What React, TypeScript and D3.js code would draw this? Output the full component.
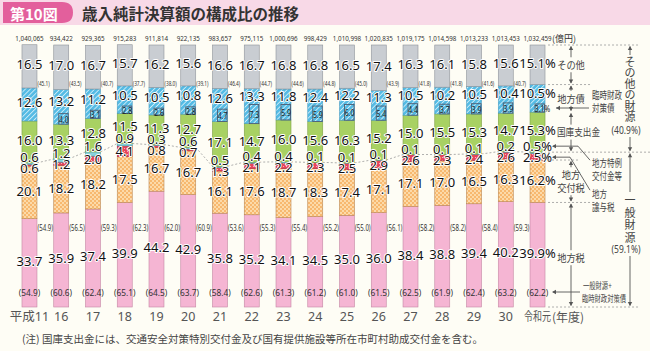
import React from 'react';
import * as d3 from 'd3';

const years = ['平成11', '16', '17', '18', '19', '20', '21', '22', '23', '24', '25', '26', '27', '28', '29', '30', '令和元'];
const totals = [1040065, 934422, 929365, 915283, 911814, 922135, 983657, 975115, 1000696, 998429, 1010998, 1020835, 1019175, 1014598, 1013233, 1013453, 1032459];
const chihouzei = [33.7, 35.9, 37.4, 39.9, 44.2, 42.9, 35.8, 35.2, 34.1, 34.5, 35.0, 36.0, 38.4, 38.8, 39.4, 40.2, 39.9];
const koufuzei = [20.1, 18.2, 18.2, 17.5, 16.7, 16.7, 16.1, 17.6, 18.7, 18.3, 17.4, 17.1, 17.1, 17.0, 16.5, 16.3, 16.2];
const jouyozei = [0.6, 1.2, 2.0, 4.1, 0.8, 0.7, 1.3, 2.1, 2.2, 2.3, 2.5, 2.9, 2.6, 2.3, 2.4, 2.6, 2.5];
const tokurei = [0.6, 1.2, 1.6, 0.9, 0.3, 0.6, 0.5, 0.4, 0.4, 0.1, 0.1, 0.1, 0.1, 0.1, 0.1, 0.2, 0.5];
const kokko = [16.0, 13.3, 12.8, 11.5, 11.3, 12.7, 17.1, 14.7, 16.0, 15.6, 16.3, 15.2, 15.0, 15.5, 15.3, 14.7, 15.3];
const chihousai = [12.6, 13.2, 11.2, 10.5, 10.5, 10.8, 12.6, 13.3, 11.8, 12.4, 12.2, 11.3, 10.5, 10.2, 10.5, 10.4, 10.5];
const rinzai: (number | null)[] = [null, 4.0, 3.1, 2.8, 2.6, 2.8, 4.7, 7.3, 5.9, 5.9, 6.0, 5.4, 4.4, 3.7, 3.9, 3.9, 3.1];
const sonota = [16.5, 17.0, 16.7, 15.7, 16.2, 15.6, 16.6, 16.7, 16.8, 16.8, 16.5, 17.4, 16.3, 16.1, 15.8, 15.6, 15.1];
// (x) next to each bar
const sonotaZaigen = [45.1, 43.5, 40.7, 37.7, 38.0, 39.1, 46.4, 44.7, 44.6, 44.8, 45.0, 43.9, 41.8, 41.8, 41.6, 40.7];
const ippanZaigen = [54.9, 56.5, 59.3, 62.3, 62.0, 60.9, 53.6, 55.3, 55.4, 55.2, 55.0, 56.1, 58.2, 58.2, 58.4, 59.3];
const ippanPlusRinzai = [54.9, 60.6, 62.4, 65.1, 64.5, 63.7, 58.4, 62.6, 61.3, 61.2, 61.0, 61.5, 62.5, 61.9, 62.4, 63.2, 62.2];

const keys = ['chihouzei', 'koufuzei', 'jouyozei', 'tokurei', 'kokko', 'chihousai', 'sonota'];
const fills: Record<string, string> = {
  chihouzei: '#f5b5d3', koufuzei: 'url(#checker)', jouyozei: 'url(#dots)', tokurei: '#86d2dc',
  kokko: '#a8d163', chihousai: 'url(#hatch)', sonota: '#c9cdd2',
};
const strokes: Record<string, string> = {
  chihouzei: '#c487a3', koufuzei: '#b98650', jouyozei: '#a8303f', tokurei: '#4c9aa6',
  kokko: '#7ea043', chihousai: '#4a9cc2', sonota: '#8e939a',
};

const FONT = "'Noto Sans', 'Noto Sans CJK JP', sans-serif";
const JP = "'Noto Sans CJK JP', sans-serif";
const f1 = d3.format('.1f');

const arrow = (x: number, y: number, dir: 'up' | 'down' | 'left') => {
  if (dir === 'up') return `M${x},${y} l-2.2,4 h4.4 z`;
  if (dir === 'down') return `M${x},${y} l-2.2,-4 h4.4 z`;
  return `M${x},${y} l4,-2.2 v4.4 z`;
};

// horizontally squeezed text (the source uses a condensed face)
const Sq = ({ x, y, size, sx, anchor = 'middle', fill = '#333', family = FONT, children }: any) => (
  <text transform={`translate(${x},${y}) scale(${sx},1)`} fontSize={size} textAnchor={anchor}
    dominantBaseline="central" fill={fill} stroke="none" fontFamily={family}>{children}</text>
);

export default function App() {
  const W = 650, H = 351;
  const x = d3.scaleBand().domain(years).range([13.6, 553.4]).paddingInner(0.528).paddingOuter(0.264);
  const y = d3.scaleLinear().domain([0, 100]).range([307, 45]);
  const bw = x.bandwidth();

  const rows = years.map((yr, i) => ({
    year: yr, chihouzei: chihouzei[i], koufuzei: koufuzei[i], jouyozei: jouyozei[i],
    tokurei: tokurei[i], kokko: kokko[i], chihousai: chihousai[i], sonota: sonota[i],
  }));
  const series = d3.stack<any>().keys(keys)(rows);
  const last = years.length - 1;
  const genTop = (i: number) => y(series[3][i][1]);

  const labelY = (k: number, i: number) => {
    const [b, t] = series[k][i];
    const mid = (y(b) + y(t)) / 2;
    if (k === 2) return Math.max(mid, genTop(i) + 5);
    if (k === 3) return genTop(i) - 6;
    if (k === 5) {
      const r = rinzai[i];
      return r ? (y(t) + y(b + r)) / 2 - 1 : mid - 2;
    }
    if (k === 1) return mid - 1;
    return mid - 2;
  };

  // right side legend geometry from the last bar
  const lc = (k: number) => y(series[k][last][1]);
  const bx = (x(years[last]) as number) + bw;
  const cx = 571;
  const colSegs = [
    { top: y(100), bot: lc(5), lines: ['その他'] },
    { top: lc(5), bot: lc(4), lines: ['地方債'] },
    { top: lc(4), bot: lc(3), lines: ['国庫支出金'], left: 557 },
    { top: lc(1), bot: lc(0), lines: ['地方', '交付税'] },
    { top: lc(0), bot: y(0), lines: ['地方税'], dy: 3 },
  ];
  const otherPct = kokko[last] + chihousai[last] + sonota[last];
  const genPct = chihouzei[last] + koufuzei[last] + jouyozei[last] + tokurei[last];
  const tokY = labelY(3, last);
  const jouY = labelY(2, last);
  const rinzaiY = (y(series[5][last][0]) + y(series[5][last][0] + (rinzai[last] as number))) / 2;

  return (
    <svg width={W} height={H} style={{ position: 'absolute', left: 0, top: 0, background: '#fefdf5' }} fontFamily={FONT}>
      <defs>
        <pattern id="checker" width="4" height="4" patternUnits="userSpaceOnUse">
          <rect width="4" height="4" fill="#f7b86f" />
          <rect width="2" height="2" fill="#fcdaa9" />
          <rect x="2" y="2" width="2" height="2" fill="#fcdaa9" />
        </pattern>
        <pattern id="dots" width="3" height="3" patternUnits="userSpaceOnUse">
          <rect width="3" height="3" fill="#e6455a" />
          <circle cx="1.5" cy="1.5" r="0.6" fill="#f7c6cc" />
        </pattern>
        <pattern id="hatch" width="3.5" height="3.5" patternUnits="userSpaceOnUse" patternTransform="rotate(45)">
          <rect width="3.5" height="3.5" fill="#55bbe4" />
          <line x1="0" y1="0" x2="0" y2="3.5" stroke="#e4f5fb" strokeWidth="1.5" />
        </pattern>
      </defs>
      <rect width={W} height={H} fill="#fefdf5" />

      {/* title band */}
      <rect x={0} y={0} width={W} height={25} fill="#f8d9e7" />
      <path d="M3,2 H62 Q73,2 73,12.5 Q73,23 62,23 H3 Z" fill="#e35f9c" />
      <text x={10} y={13} fontSize={15} fontWeight="bold" fill="#fff" dominantBaseline="central" fontFamily={JP}>第10図</text>
      <text x={82} y={13} fontSize={15.5} fontWeight="bold" fill="#333" dominantBaseline="central" fontFamily={JP}>歳入純計決算額の構成比の推移</text>

      {/* connector line of general revenue */}
      {years.slice(0, last).map((yr, i) => (
        <line key={'c' + i} x1={(x(yr) as number) + bw} y1={genTop(i)} x2={x(years[i + 1]) as number} y2={genTop(i + 1)}
          stroke="#9a9a9a" strokeWidth={0.8} strokeDasharray="2,2" />
      ))}

      {/* bars */}
      {series.map((s, k) => s.map((d, i) => (
        <rect key={keys[k] + i} x={x(years[i])} y={y(d[1])} width={bw} height={y(d[0]) - y(d[1])}
          fill={fills[keys[k]]} stroke={strokes[keys[k]]} strokeWidth={0.6} />
      )))}
      {rinzai.map((r, i) => r == null ? null : (
        <g key={'r' + i}>
          <rect x={(x(years[i]) as number) + 5} y={y(series[5][i][0] + r)} width={bw - 5.5}
            height={y(series[5][i][0]) - y(series[5][i][0] + r)} fill="url(#hatch)" stroke="#4d5d73" strokeWidth={0.9} />
          <Sq x={(x(years[i]) as number) + 5 + (bw - 5) / 2 + (i === last ? 2.5 : 0)} y={(y(series[5][i][0]) + y(series[5][i][0] + r)) / 2}
            size={9.5} sx={0.72} fill="#222">{f1(r) + (i === last ? '%' : '')}</Sq>
        </g>
      ))}

      {/* segment labels */}
      {series.map((s, k) => s.map((d, i) => (
        <text key={'l' + keys[k] + i} x={(x(years[i]) as number) + bw / 2} y={labelY(k, i)} fontSize={13}
          textAnchor="middle" dominantBaseline="central" fill="#111" stroke="#fff" strokeWidth={2}
          strokeLinejoin="round" paintOrder="stroke">{f1(d[1] - d[0]) + (i === last ? '%' : '')}</text>
      )))}

      {/* totals */}
      {totals.map((t, i) => (
        <Sq key={'t' + i} x={(x(years[i]) as number) + bw / 2} y={38} size={7.8} sx={0.8}>{d3.format(',')(t)}</Sq>
      ))}
      <text x={bx + 7} y={38} fontSize={9} dominantBaseline="central" fill="#333" fontFamily={JP}>(億円)</text>

      {/* parenthetical ratios */}
      {sonotaZaigen.map((v, i) => (
        <Sq key={'s' + i} x={(x(years[i]) as number) + bw + 0.5} y={84} size={7} sx={0.68} anchor="start">({f1(v)})</Sq>
      ))}
      {ippanZaigen.map((v, i) => (
        <Sq key={'g' + i} x={(x(years[i]) as number) + bw + 0.5} y={228} size={8.2} sx={0.74} anchor="start">({f1(v)})</Sq>
      ))}
      {ippanPlusRinzai.map((v, i) => (
        <Sq key={'p' + i} x={(x(years[i]) as number) + bw / 2} y={292} size={9.5} sx={0.88}>({f1(v)})</Sq>
      ))}

      {/* year labels */}
      {years.map((yr, i) => (
        i === last
          ? <Sq key={'y' + i} x={(x(yr) as number) + bw / 2} y={316} size={12} sx={0.75} fill="#555" family={JP}>{yr}</Sq>
          : <text key={'y' + i} x={(x(yr) as number) + bw / 2} y={316} fontSize={12.5} textAnchor="middle"
              dominantBaseline="central" fill="#555" fontFamily={FONT}>{yr}</text>
      ))}
      <text x={bx + 7} y={316} fontSize={12} dominantBaseline="central" fill="#555" fontFamily={JP}>(年度)</text>

      {/* right legend: dashed guides */}
      {[
        [y(100), 640], [lc(5), 592], [genTop(last), 650], [lc(1), 580], [lc(0), 600], [y(0), 640],
      ].map(([yy, x2], i) => (
        <line key={'d' + i} x1={bx + 3} x2={x2} y1={yy} y2={yy} stroke="#999" strokeWidth={0.8} strokeDasharray="2,2" />
      ))}

      {/* center column */}
      {colSegs.map((s, i) => {
        const n = s.lines.length;
        const mid = (s.top + s.bot) / 2 + (s.dy || 0);
        const t0 = mid - (n * 13) / 2 - 1;
        const t1 = mid + (n * 13) / 2 + 1;
        return (
          <g key={'cs' + i} stroke="#555" fill="#555">
            <line x1={cx} x2={cx} y1={s.top + 1.5} y2={t0} strokeWidth={0.9} />
            <line x1={cx} x2={cx} y1={t1} y2={s.bot - 1.5} strokeWidth={0.9} />
            <path d={arrow(cx, s.top + 1, 'up')} stroke="none" />
            <path d={arrow(cx, s.bot - 1, 'down')} stroke="none" />
            {s.lines.map((ln, j) => (
              <Sq key={j} x={s.left || cx} y={mid + (j - (n - 1) / 2) * 13} size={10.5} sx={s.left ? 0.82 : 0.88}
                anchor={s.left ? 'start' : 'middle'} fill="#444" family={JP}>{ln}</Sq>
            ))}
          </g>
        );
      })}

      {/* leaders */}
      <g stroke="#555" strokeWidth={0.9} fill="none">
        <line x1={bx + 11} x2={589} y1={rinzaiY} y2={rinzaiY} />
        <polyline points={`${bx + 8},${tokY} 578,${tokY} 590,${tokY + 14}`} />
        <polyline points={`${bx + 8},${jouY} 570,${jouY} 590,${jouY + 33}`} />
        <line x1={bx + 8} x2={580} y1={292} y2={292} />
      </g>
      <g fill="#555">
        <path d={arrow(bx + 11, rinzaiY, 'left')} />
        <path d={arrow(bx + 7, tokY, 'left')} />
        <path d={arrow(bx + 7, jouY, 'left')} />
        <path d={arrow(bx + 7, 292, 'left')} />
      </g>
      <Sq x={592} y={rinzaiY - 13} size={10} sx={0.75} anchor="start" fill="#444" family={JP}>臨時財政</Sq>
      <Sq x={592} y={rinzaiY} size={10} sx={0.75} anchor="start" fill="#444" family={JP}>対策債</Sq>
      <Sq x={592} y={tokY + 17} size={10} sx={0.75} anchor="start" fill="#444" family={JP}>地方特例</Sq>
      <Sq x={592} y={tokY + 30} size={10} sx={0.75} anchor="start" fill="#444" family={JP}>交付金等</Sq>
      <Sq x={592} y={jouY + 37} size={10} sx={0.75} anchor="start" fill="#444" family={JP}>地方</Sq>
      <Sq x={592} y={jouY + 50} size={10} sx={0.75} anchor="start" fill="#444" family={JP}>譲与税</Sq>
      <Sq x={583} y={285} size={9} sx={0.7} anchor="start" fill="#444" family={JP}>一般財源+</Sq>
      <Sq x={582} y={298} size={9} sx={0.7} anchor="start" fill="#444" family={JP}>臨時財政対策債</Sq>

      {/* far right column */}
      <g stroke="#555" fill="#555">
        <line x1={630} x2={630} y1={y(100) + 1.5} y2={55} strokeWidth={0.9} />
        <path d={arrow(630, y(100) + 1, 'up')} stroke="none" />
        <line x1={630} x2={630} y1={137} y2={genTop(last) - 1.5} strokeWidth={0.9} />
        <path d={arrow(630, genTop(last) - 1, 'down')} stroke="none" />
        <line x1={630} x2={630} y1={genTop(last) + 1.5} y2={192} strokeWidth={0.9} />
        <path d={arrow(630, genTop(last) + 1, 'up')} stroke="none" />
        <line x1={630} x2={630} y1={256} y2={y(0) - 1.5} strokeWidth={0.9} />
        <path d={arrow(630, y(0) - 1, 'down')} stroke="none" />
      </g>
      <g fontFamily={JP} fill="#444" fontSize={11} textAnchor="middle">
        {'その他の財源'.split('').map((c, j) => (
          <text key={'o' + j} x={630} y={61 + j * 11} dominantBaseline="central">{c}</text>
        ))}
        {'一般財源'.split('').map((c, j) => (
          <text key={'i' + j} x={630} y={199 + j * 12.5} dominantBaseline="central">{c}</text>
        ))}
      </g>
      <Sq x={626} y={130} size={10} sx={0.85} fill="#444">({f1(otherPct)}%)</Sq>
      <Sq x={626} y={249} size={10} sx={0.85} fill="#444">({f1(genPct)}%)</Sq>

      {/* note */}
      <text x={22} y={338} fontSize={10.5} fill="#444" dominantBaseline="central" fontFamily={JP}>
        (注) 国庫支出金には、交通安全対策特別交付金及び国有提供施設等所在市町村助成交付金を含む。
      </text>
    </svg>
  );
}
